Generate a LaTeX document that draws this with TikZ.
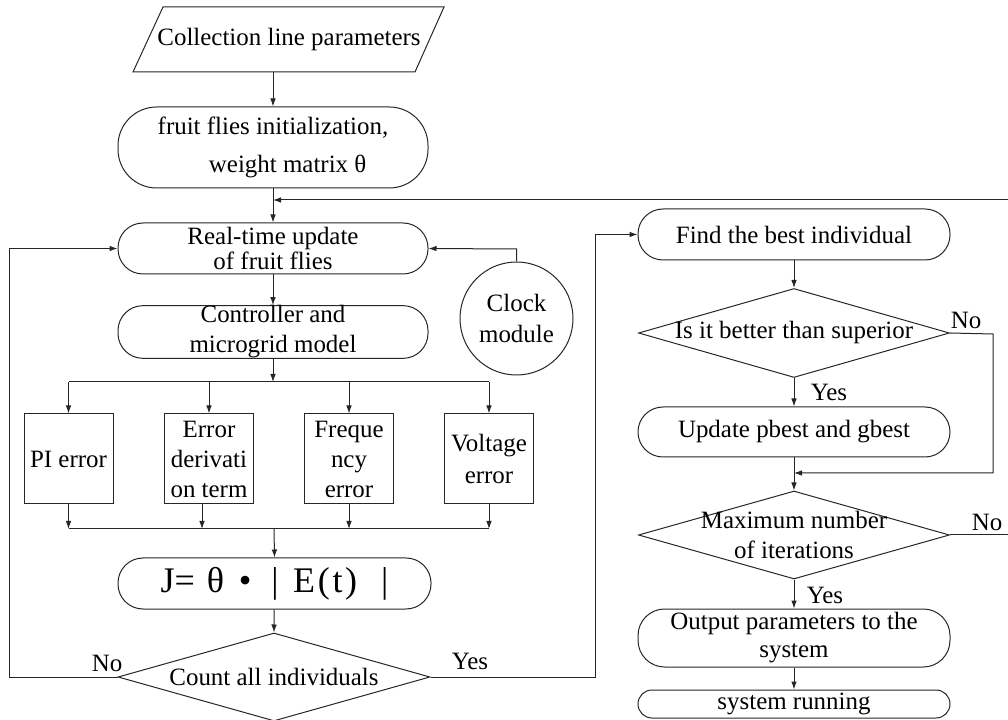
\documentclass[tikz,border=0pt]{standalone}
\usepackage{fontspec}
\setmainfont{Liberation Serif}
\usetikzlibrary{shapes.geometric,arrows.meta,calc}
\newcommand{\tf}{\fontsize{18.7}{22.5}\selectfont}
\begin{document}
\begin{tikzpicture}[x=0.75pt,y=-0.75pt,
  ln/.style={line width=0.75pt,draw=black!85},
  arr/.style={ln,-{Latex[length=6pt,width=4.2pt]}},
  rbox/.style={ln,rounded corners=#1,inner sep=0pt,align=center,font=\tf},
  sbox/.style={ln,inner sep=0pt,align=center,font=\tf,minimum width=66.75pt,minimum height=67.5pt},
  dia/.style={ln,diamond,inner sep=0pt},
  txt/.style={inner sep=0pt,align=center,font=\tf}]
\useasboundingbox (0,0) rectangle (1008,720);
\clip (0,0) rectangle (1008,720);

% ---------- left column ----------
\draw[ln] (133,72) -- (163,7) -- (444,7) -- (415,72) -- cycle;
\node[txt,minimum height=48.75pt] (par) at (289,39.5) {Collection line parameters};

\node[rbox=29pt,minimum width=232.5pt,minimum height=60.75pt] (init) at (273,147.5)
  {fruit flies initialization,\\[6pt]\hspace*{22pt}weight matrix θ};
\node[rbox=18.75pt,minimum width=232.5pt,minimum height=38.25pt] (real) at (273,248.5)
  {Real-time update\\[-3.75pt]of fruit flies};
\node[rbox=18.75pt,minimum width=232.5pt,minimum height=37.5pt] (ctrl) at (273,332)
  {Controller and\\microgrid model};
\node[ln,circle,inner sep=0pt,minimum size=84.75pt,align=center,font=\tf] (clock) at (516.5,318.5)
  {Clock\\[1pt]module};

\node[sbox] (pi) at (68.5,459) {PI error};
\node[sbox] (ed) at (209,459) {Error\\derivati\\on term};
\node[sbox] (fr) at (349,459) {Freque\\ncy\\error};
\node[sbox] (vo) at (489,459) {Voltage\\[2pt]error};

\node[rbox=18.75pt,minimum width=234.75pt,minimum height=38.25pt,font=\fontsize{27}{30}\selectfont] (J) at (274.5,583.5)
  {J=\hspace{9pt}θ\hspace{11pt}•\hspace{15pt}|\hspace{11pt}E\hspace{2pt}(\hspace{2pt}t\hspace{2pt})\hspace{18pt}|};

\node[dia,minimum width=234pt,minimum height=66pt] (count) at (274,677) {};
\node[txt] (countt) at (274,677) {Count all individuals};

% ---------- right column ----------
\node[rbox=18.75pt,minimum width=234pt,minimum height=38.25pt] (find) at (794,234.5) {Find the best individual};
\node[dia,minimum width=233.25pt,minimum height=66.75pt] (better) at (794,333) {};
\node[txt] (bettert) at (794,333) {Is it better than superior};
\node[rbox=18.75pt,minimum width=234pt,minimum height=37.5pt] (upd) at (794,432) {Update pbest and gbest};
\node[dia,minimum width=233.25pt,minimum height=66pt] (max) at (794,535) {};
\node[txt] (maxt) at (794,535) {Maximum number\\of iterations};
\node[rbox=20pt,minimum width=234pt,minimum height=43.5pt] (out) at (794,638) {Output parameters to the\\[-1.5pt]system};
\node[rbox=10.5pt,minimum width=234pt,minimum height=21pt] (run) at (794,704) {system running};

% ---------- labels ----------
\node[txt] (lno1) at (107,663) {No};
\node[txt] (lyes1) at (470,661) {Yes};
\node[txt] (lno2) at (966,320) {No};
\node[txt] (lyes2) at (829,392) {Yes};
\node[txt] (lno3) at (987,522) {No};
\node[txt] (lyes3) at (825,595) {Yes};

% ---------- coordinates ----------
\coordinate (fbR) at (1008,200);
\coordinate (split) at (273,382);
\coordinate (merge) at (274,529);
\coordinate (lL) at (9,677);
\coordinate (lR) at (595,677);
\coordinate (clk) at (516.5,249);
\coordinate (nb) at (993,334);
\coordinate (jn) at (794,473);
\coordinate (mxR) at (1008,535);

% ---------- connectors ----------
\draw[arr] (par.south -| init.north) -- (init.north);
\draw[arr] (init) -- (real);
\draw[arr] (fbR) -- (fbR -| init.south);
\draw[arr] (real) -- (ctrl);
\draw[arr] (clock.north) -- (clk) -- (real.east);
\draw[arr] (ctrl) -- (split);
\draw[ln] (split -| pi) -- (split -| vo);
\foreach \b in {pi,ed,fr,vo} \draw[arr] (split -| \b) -- (\b.north);
\draw[arr] (pi.south) -- (pi.south |- merge);
\draw[arr] ($(ed.south)+(-7,0)$) -- ($(ed.south |- merge)+(-7,0)$);
\draw[arr] (fr.south) -- (fr.south |- merge);
\draw[arr] (vo.south) -- (vo.south |- merge);
\draw[ln] (merge -| pi) -- (merge -| vo);
\draw[arr] (merge) -- (J.north);
\draw[arr] (J) -- (count.north);
\draw[arr] (count.west) -- (lL) -- (lL |- real.west) -- (real.west);
\draw[arr] (count.east) -- (lR) -- (lR |- find.west) -- (find.west);
\draw[arr] (find) -- (better.north);
\draw[arr] (better.south) -- (upd.north);
\draw[arr] (better.east) -- (nb) -- (nb |- jn) -- (jn);
\draw[arr] (upd.south) -- (max.north);
\draw[ln] (max.east) -- (mxR);
\draw[arr] (max.south) -- (out.north);
\draw[arr] (out) -- (run);
\end{tikzpicture}
\end{document}
